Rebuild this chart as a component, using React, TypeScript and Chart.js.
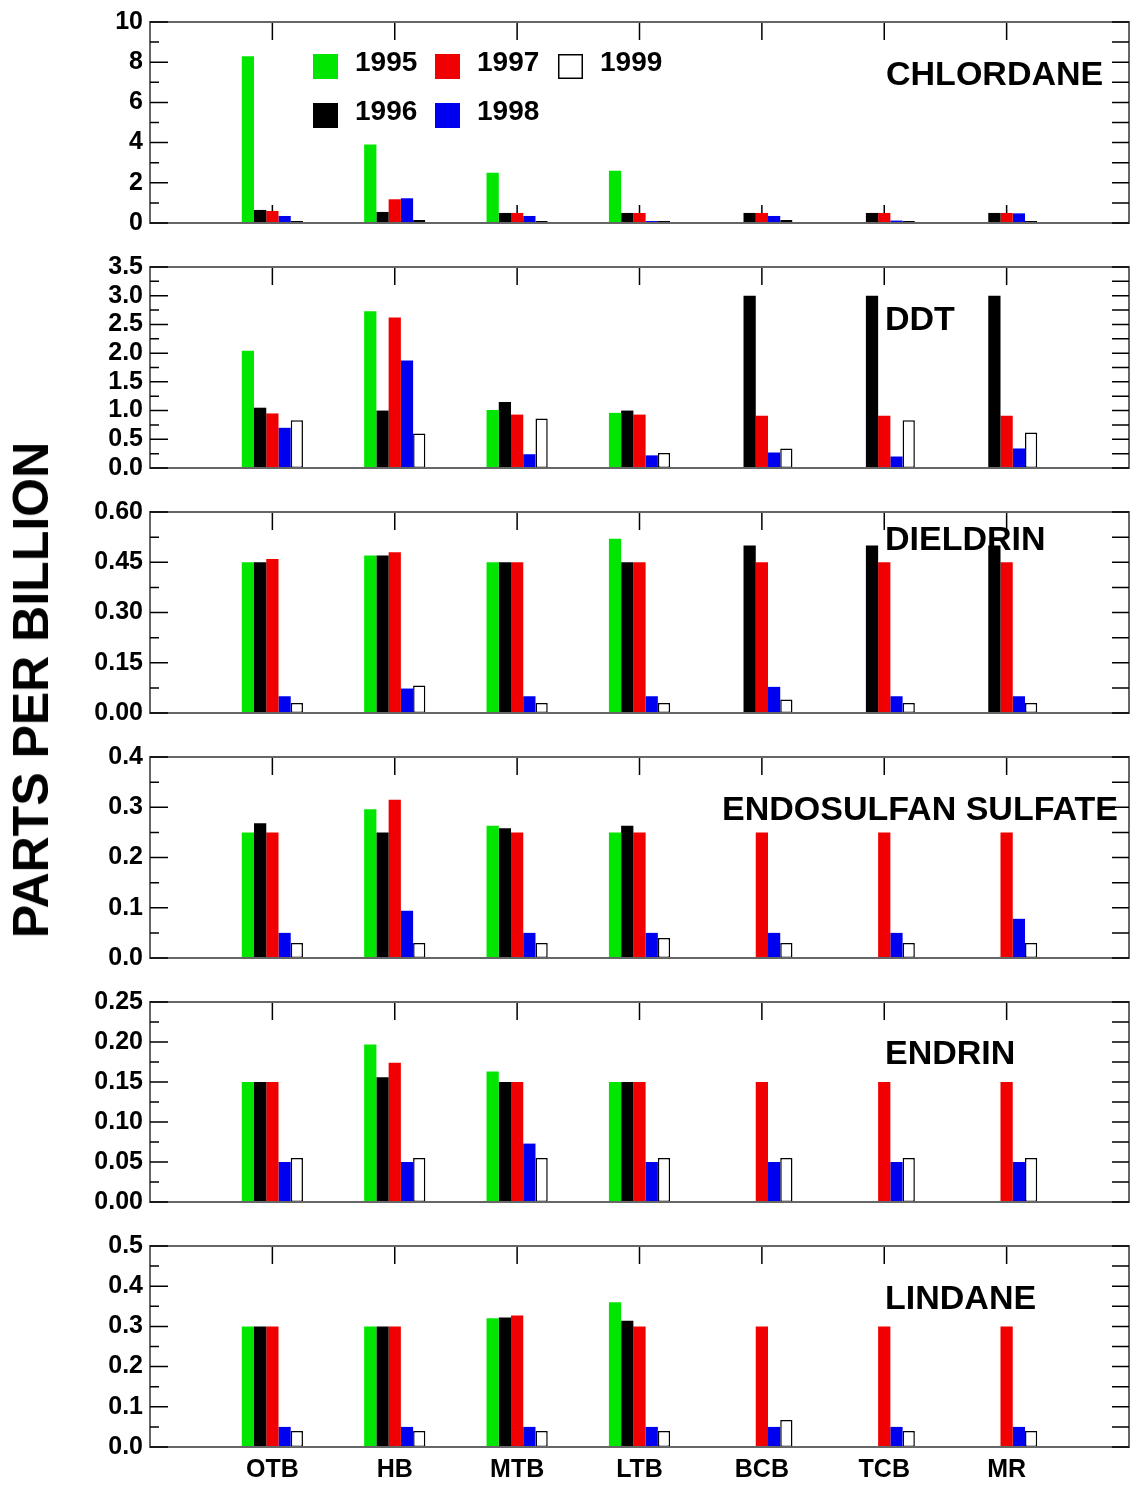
import React, { useEffect, useRef } from 'react';
import { Chart, registerables } from 'chart.js';

Chart.register(...registerables);

const FONT = "'Liberation Sans', Arial, Helvetica, sans-serif";

const CATEGORIES = ['OTB', 'HB', 'MTB', 'LTB', 'BCB', 'TCB', 'MR'];
const YEARS = ['1995', '1996', '1997', '1998', '1999'];
const COLORS = ['#00e600', '#000000', '#f00000', '#0000f0', '#ffffff'];

// CHLORDANE (ppb)
const CHLORDANE_1995 = [8.3, 3.9, 2.5, 2.6, null, null, null];
const CHLORDANE_1996 = [0.65, 0.55, 0.5, 0.5, 0.5, 0.5, 0.5];
const CHLORDANE_1997 = [0.6, 1.18, 0.5, 0.5, 0.5, 0.5, 0.5];
const CHLORDANE_1998 = [0.35, 1.23, 0.35, 0.1, 0.35, 0.12, 0.48];
const CHLORDANE_1999 = [0.1, 0.15, 0.1, 0.1, 0.15, 0.1, 0.1];
const CHLORDANE_TICKS = [0, 2, 4, 6, 8, 10];

// DDT
const DDT_1995 = [2.04, 2.73, 1.01, 0.96, null, null, null];
const DDT_1996 = [1.05, 1.0, 1.15, 1.0, 3.0, 3.0, 3.0];
const DDT_1997 = [0.95, 2.62, 0.93, 0.93, 0.91, 0.91, 0.91];
const DDT_1998 = [0.7, 1.87, 0.24, 0.22, 0.27, 0.2, 0.34];
const DDT_1999 = [0.83, 0.6, 0.86, 0.26, 0.34, 0.83, 0.62];
const DDT_TICKS = [0, 0.5, 1.0, 1.5, 2.0, 2.5, 3.0, 3.5];

// DIELDRIN
const DIELDRIN_1995 = [0.45, 0.47, 0.45, 0.52, null, null, null];
const DIELDRIN_1996 = [0.45, 0.47, 0.45, 0.45, 0.5, 0.5, 0.5];
const DIELDRIN_1997 = [0.46, 0.48, 0.45, 0.45, 0.45, 0.45, 0.45];
const DIELDRIN_1998 = [0.05, 0.073, 0.05, 0.05, 0.078, 0.05, 0.05];
const DIELDRIN_1999 = [0.03, 0.082, 0.03, 0.03, 0.04, 0.03, 0.03];
const DIELDRIN_TICKS = [0, 0.15, 0.3, 0.45, 0.6];

// ENDOSULFAN SULFATE
const ENDOSULFAN_1995 = [0.25, 0.296, 0.263, 0.25, null, null, null];
const ENDOSULFAN_1996 = [0.268, 0.25, 0.258, 0.263, null, null, null];
const ENDOSULFAN_1997 = [0.25, 0.315, 0.25, 0.25, 0.25, 0.25, 0.25];
const ENDOSULFAN_1998 = [0.05, 0.094, 0.05, 0.05, 0.05, 0.05, 0.078];
const ENDOSULFAN_1999 = [0.03, 0.03, 0.03, 0.04, 0.03, 0.03, 0.03];
const ENDOSULFAN_TICKS = [0, 0.1, 0.2, 0.3, 0.4];

// ENDRIN
const ENDRIN_1995 = [0.15, 0.197, 0.163, 0.15, null, null, null];
const ENDRIN_1996 = [0.15, 0.156, 0.15, 0.15, null, null, null];
const ENDRIN_1997 = [0.15, 0.174, 0.15, 0.15, 0.15, 0.15, 0.15];
const ENDRIN_1998 = [0.05, 0.05, 0.073, 0.05, 0.05, 0.05, 0.05];
const ENDRIN_1999 = [0.055, 0.055, 0.055, 0.055, 0.055, 0.055, 0.055];
const ENDRIN_TICKS = [0, 0.05, 0.1, 0.15, 0.2, 0.25];

// LINDANE
const LINDANE_1995 = [0.3, 0.3, 0.32, 0.36, null, null, null];
const LINDANE_1996 = [0.3, 0.3, 0.322, 0.314, null, null, null];
const LINDANE_1997 = [0.3, 0.3, 0.327, 0.3, 0.3, 0.3, 0.3];
const LINDANE_1998 = [0.05, 0.05, 0.05, 0.05, 0.05, 0.05, 0.05];
const LINDANE_1999 = [0.04, 0.04, 0.04, 0.04, 0.067, 0.04, 0.04];
const LINDANE_TICKS = [0, 0.1, 0.2, 0.3, 0.4, 0.5];

type PanelCfg = {
  title: string;
  series: (number | null)[][];
  ticks: number[];
  decimals: number;
  titleX: number;
  titleDy: number;
  plotTop: number;
  plotBottom: number;
  legend?: boolean;
  last?: boolean;
};

const PANELS: PanelCfg[] = [
  { title: 'CHLORDANE', series: [CHLORDANE_1995, CHLORDANE_1996, CHLORDANE_1997, CHLORDANE_1998, CHLORDANE_1999], ticks: CHLORDANE_TICKS, decimals: 0, titleX: 886, titleDy: 54, plotTop: 19, plotBottom: 223, legend: true },
  { title: 'DDT', series: [DDT_1995, DDT_1996, DDT_1997, DDT_1998, DDT_1999], ticks: DDT_TICKS, decimals: 1, titleX: 885, titleDy: 54, plotTop: 264, plotBottom: 468 },
  { title: 'DIELDRIN', series: [DIELDRIN_1995, DIELDRIN_1996, DIELDRIN_1997, DIELDRIN_1998, DIELDRIN_1999], ticks: DIELDRIN_TICKS, decimals: 2, titleX: 885, titleDy: 29, plotTop: 509, plotBottom: 713 },
  { title: 'ENDOSULFAN SULFATE', series: [ENDOSULFAN_1995, ENDOSULFAN_1996, ENDOSULFAN_1997, ENDOSULFAN_1998, ENDOSULFAN_1999], ticks: ENDOSULFAN_TICKS, decimals: 1, titleX: 722, titleDy: 54, plotTop: 754, plotBottom: 958 },
  { title: 'ENDRIN', series: [ENDRIN_1995, ENDRIN_1996, ENDRIN_1997, ENDRIN_1998, ENDRIN_1999], ticks: ENDRIN_TICKS, decimals: 2, titleX: 885, titleDy: 53, plotTop: 999, plotBottom: 1202 },
  { title: 'LINDANE', series: [LINDANE_1995, LINDANE_1996, LINDANE_1997, LINDANE_1998, LINDANE_1999], ticks: LINDANE_TICKS, decimals: 1, titleX: 885, titleDy: 54, plotTop: 1243, plotBottom: 1447, last: true },
];

const PAGE_W = 1141;
const PAGE_H = 1486;
const TOP_PAD = 19;

const decorPlugin = {
  id: 'panelDecor',
  beforeDatasetsDraw(chart: any) {
    const { ctx, chartArea: a, scales } = chart;
    const xs = scales.x;
    ctx.save();
    ctx.strokeStyle = '#000';
    ctx.lineWidth = 1.5;
    ctx.beginPath();
    for (let i = 1; i <= CATEGORIES.length; i++) {
      const px = xs.getPixelForValue(i);
      ctx.moveTo(px, a.top);
      ctx.lineTo(px, a.top + 18);
      ctx.moveTo(px, a.bottom);
      ctx.lineTo(px, a.bottom - 18);
    }
    ctx.stroke();
    ctx.restore();
  },
  afterDatasetsDraw(chart: any, _args: any, opts: any) {
    const { ctx, chartArea: a, scales } = chart;
    const ys = scales.y;
    ctx.save();
    // frame
    ctx.strokeStyle = '#666';
    ctx.lineWidth = 2;
    ctx.strokeRect(a.left, a.top, a.right - a.left, a.bottom - a.top);
    // y ticks (major + minor)
    const vals: number[] = ys.ticks.map((t: any) => t.value);
    ctx.strokeStyle = '#000';
    ctx.lineWidth = 1.5;
    ctx.beginPath();
    vals.forEach((v, i) => {
      const py = ys.getPixelForValue(v);
      ctx.moveTo(a.left, py);
      ctx.lineTo(a.left + 18, py);
      ctx.moveTo(a.right, py);
      ctx.lineTo(a.right - 17, py);
      if (i < vals.length - 1) {
        const pm = ys.getPixelForValue((v + vals[i + 1]) / 2);
        ctx.moveTo(a.left, pm);
        ctx.lineTo(a.left + 9, pm);
        ctx.moveTo(a.right, pm);
        ctx.lineTo(a.right - 17, pm);
      }
    });
    ctx.stroke();
    // panel title
    ctx.fillStyle = '#000';
    ctx.textBaseline = 'middle';
    ctx.textAlign = 'left';
    ctx.font = `bold 34px ${FONT}`;
    ctx.fillText(opts.title, opts.titleX, a.top + opts.titleDy);
    // legend
    if (opts.legend) {
      const cols = [313, 435, 558];
      const rows = [a.top + 32, a.top + 81];
      ctx.font = `bold 28px ${FONT}`;
      chart.data.datasets.forEach((ds: any, k: number) => {
        const bx = cols[Math.floor(k / 2)];
        const by = rows[k % 2];
        ctx.fillStyle = ds.backgroundColor;
        ctx.fillRect(bx, by, 25, 25);
        if (ds.borderWidth > 0) {
          ctx.strokeStyle = '#000';
          ctx.lineWidth = 1.5;
          ctx.strokeRect(bx + 0.75, by + 0.75, 23.5, 23.5);
        }
        ctx.fillStyle = '#000';
        ctx.fillText(ds.label, bx + 42, by + 9);
      });
    }
    ctx.restore();
  },
};

function Panel({ cfg, canvasTop, canvasHeight }: { cfg: PanelCfg; canvasTop: number; canvasHeight: number }) {
  const ref = useRef<HTMLCanvasElement | null>(null);
  useEffect(() => {
    if (!ref.current) return;
    const plotH = cfg.plotBottom - cfg.plotTop;
    const bottomSpace = canvasHeight - TOP_PAD - plotH;
    const max = cfg.ticks[cfg.ticks.length - 1];
    const step = cfg.ticks[1] - cfg.ticks[0];
    const chart = new Chart(ref.current, {
      type: 'bar',
      data: {
        labels: ['', ...CATEGORIES, ''],
        datasets: YEARS.map((y, k) => ({
          label: y,
          data: [null, ...cfg.series[k], null],
          backgroundColor: COLORS[k],
          borderColor: '#000',
          borderWidth: k === 4 ? 1.5 : 0,
          borderSkipped: false,
        })),
      },
      options: {
        responsive: false,
        maintainAspectRatio: false,
        animation: false,
        devicePixelRatio: 1,
        events: [],
        layout: { padding: { left: 0, right: PAGE_W - 1129, top: TOP_PAD, bottom: 0 } },
        datasets: { bar: { categoryPercentage: 0.5, barPercentage: 1.0 } },
        scales: {
          x: {
            type: 'category',
            offset: false,
            display: true,
            grid: { display: false, drawTicks: false },
            border: { display: false },
            ticks: {
              display: !!cfg.last,
              autoSkip: false,
              maxRotation: 0,
              minRotation: 0,
              padding: 8,
              color: '#000',
              font: { family: FONT, size: 25, weight: 'bold' },
            },
            afterFit: (s: any) => {
              s.height = bottomSpace;
            },
          },
          y: {
            type: 'linear',
            min: 0,
            max,
            grid: { display: false, drawTicks: false },
            border: { display: false },
            ticks: {
              stepSize: step,
              autoSkip: false,
              padding: 7,
              color: '#000',
              font: { family: FONT, size: 25, weight: 'bold' },
              callback: (v: any) => Number(v).toFixed(cfg.decimals),
            },
            afterFit: (s: any) => {
              s.width = 150;
            },
          },
        },
        plugins: {
          legend: { display: false },
          tooltip: { enabled: false },
          panelDecor: {
            title: cfg.title,
            titleX: cfg.titleX,
            titleDy: cfg.titleDy,
            legend: !!cfg.legend,
          },
        } as any,
      },
      plugins: [decorPlugin],
    } as any);
    return () => chart.destroy();
  }, []);
  return (
    <canvas
      ref={ref}
      width={PAGE_W}
      height={canvasHeight}
      style={{ position: 'absolute', left: 0, top: canvasTop, width: PAGE_W, height: canvasHeight, display: 'block' }}
    />
  );
}

export default function App() {
  const tops = PANELS.map((p) => p.plotTop - TOP_PAD);
  return (
    <div style={{ position: 'absolute', left: 0, top: 0, width: PAGE_W, height: PAGE_H, background: '#fff', overflow: 'hidden' }}>
      {PANELS.map((p, i) => (
        <Panel
          key={p.title}
          cfg={p}
          canvasTop={tops[i]}
          canvasHeight={(i < PANELS.length - 1 ? tops[i + 1] : PAGE_H) - tops[i]}
        />
      ))}
      <div
        style={{
          position: 'absolute',
          left: 31,
          top: 690,
          transform: 'translate(-50%, -50%) rotate(-90deg)',
          whiteSpace: 'nowrap',
          fontFamily: FONT,
          fontWeight: 'bold',
          fontSize: 50,
          lineHeight: 1,
          color: '#000',
        }}
      >
        PARTS PER BILLION
      </div>
    </div>
  );
}
